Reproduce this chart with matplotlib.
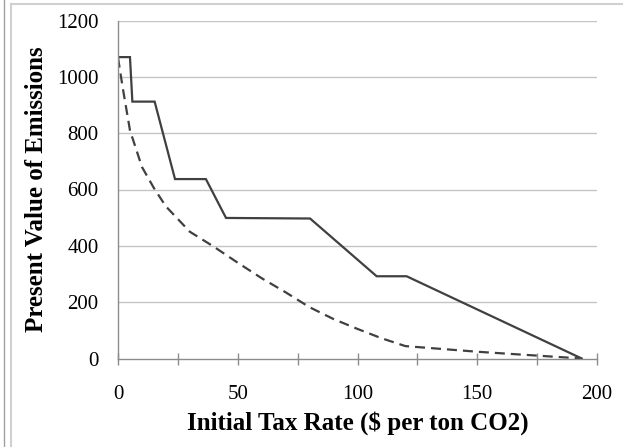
import matplotlib
matplotlib.use("Agg")
import matplotlib.pyplot as plt
from matplotlib.lines import Line2D

# Data
solid_x = [0, 5, 6, 15.3, 23.8, 36.7, 45.1, 80.2, 108, 120.5, 193.6]
solid_y = [1070, 1070, 912, 912, 637, 637, 499, 497, 292, 292, 0]

dashed_x = [0, 2, 5, 10, 15, 20, 25, 30, 40, 50, 60, 70, 80, 90, 100, 110, 120, 150, 193.6]
dashed_y = [1068, 960, 810, 680, 605, 540, 495, 450, 397, 340, 285, 235, 182, 140, 105, 72, 44, 24, 0]

x_ticks = [0, 50, 100, 150, 200]
y_ticks = [0, 200, 400, 600, 800, 1000, 1200]
x_label = "Initial Tax Rate ($ per ton CO2)"
y_label = "Present Value of Emissions"

W, H = 623, 447
fig = plt.figure(figsize=(W / 100, H / 100), dpi=100)
fig.patch.set_facecolor("white")

left, right, top, bottom = 118, 597, 20.5, 358.5
ax = fig.add_axes([left / W, 1 - bottom / H, (right - left) / W, (bottom - top) / H])

line_color = "#404040"
ax.plot(solid_x, solid_y, color=line_color, lw=1.6, solid_joinstyle="miter")
ax.plot(dashed_x, dashed_y, color=line_color, lw=1.6, dashes=(4.5, 2.7))

ax.set_xlim(0, 200)
ax.set_ylim(0, 1200)
ax.set_xticks(x_ticks)
ax.set_xticks(range(0, 201, 25), minor=True)
ax.set_yticks(y_ticks)

for v in y_ticks[1:]:
    ax.axhline(v, color="#c4c4c4", lw=1.0, zorder=0)

for s in ["top", "right"]:
    ax.spines[s].set_visible(False)
ax.spines["left"].set_color("#8c8c8c")
ax.spines["bottom"].set_color("#8c8c8c")
ax.spines["left"].set_linewidth(1.0)
ax.spines["bottom"].set_linewidth(1.0)

serif = ["Liberation Serif", "DejaVu Serif"]
ax.tick_params(axis="x", which="both", direction="inout", length=8, width=1.0,
               color="#8c8c8c", pad=15, labelsize=15)
ax.tick_params(axis="y", which="both", length=0, pad=14, labelsize=15)
for lab in ax.get_xticklabels() + ax.get_yticklabels():
    lab.set_fontfamily(serif)

ax.set_xlabel(x_label, fontsize=18, fontweight="bold", family=serif, va="center")
ax.set_ylabel(y_label, fontsize=18, fontweight="bold", family=serif, va="center")
ax.xaxis.set_label_coords(0.5, (bottom - 423) / (bottom - top))
ax.yaxis.set_label_coords((37 - left) / (right - left), 0.5)

# outer frame lines
fig.add_artist(Line2D([3.5 / W, 3.5 / W], [0, 1], color="#a0a0a0", lw=1.0))
fig.add_artist(Line2D([10.5 / W, 10.5 / W], [0, 1 - 3.5 / H], color="#d0d0d0", lw=1.5))
fig.add_artist(Line2D([10.5 / W, 1], [1 - 3.5 / H, 1 - 3.5 / H], color="#d0d0d0", lw=1.5))

fig.savefig("out.png", dpi=100, facecolor="white")
